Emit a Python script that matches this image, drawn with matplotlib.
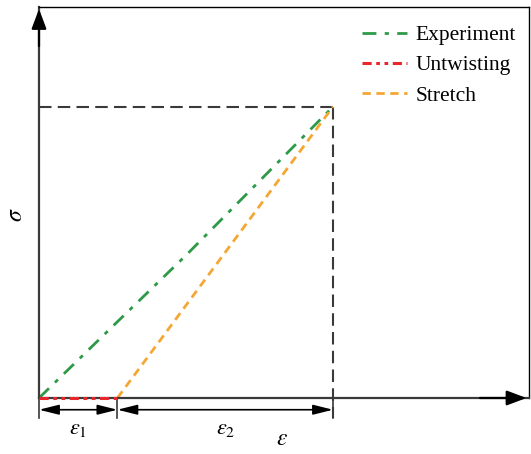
import matplotlib

matplotlib.use("Agg")

import matplotlib.pyplot as plt  # noqa: E402

plt.rcParams["font.family"] = ["Liberation Serif", "DejaVu Serif"]
plt.rcParams["mathtext.fontset"] = "stix"

# schematic values (arbitrary units)
x_max, y_max = 10.0, 10.0
eps1 = 1.6
eps_peak = 6.0
sigma_peak = 7.45

exp_x = [0.0, 1.6, 3.0, 4.5, 6.0]
exp_y = [0.0, 1.95, 3.65, 5.55, 7.45]
untw_x = [0.0, 1.6]
untw_y = [0.0, 0.0]
str_x = [1.6, 6.0]
str_y = [0.0, 7.45]

fig = plt.figure(figsize=(5.31, 4.54), dpi=100)
ax = fig.add_axes([39 / 531, 56 / 454, 490 / 531, 391 / 454])
ax.set_xlim(0, x_max)
ax.set_ylim(0, y_max)
ax.set_xticks([])
ax.set_yticks([])
for side in ("top", "right"):
    ax.spines[side].set_linewidth(1.0)
    ax.spines[side].set_color("black")
for side in ("left", "bottom"):
    ax.spines[side].set_linewidth(1.6)
    ax.spines[side].set_color("#3a3a3a")

# axis arrows
head = "-|>,head_length=1.2,head_width=0.45"
ax.annotate("", xy=(0, 9.95), xytext=(0, 9.0),
            arrowprops=dict(arrowstyle=head, color="black", lw=1.6,
                            shrinkA=0, shrinkB=0),
            annotation_clip=False)
ax.annotate("", xy=(9.95, 0), xytext=(9.0, 0),
            arrowprops=dict(arrowstyle=head, color="black", lw=1.6,
                            shrinkA=0, shrinkB=0),
            annotation_clip=False)

# guide lines to the peak
ax.plot([0, eps_peak], [sigma_peak, sigma_peak], color="#3a3a3a", lw=1.5,
        dashes=(6, 3))
ax.plot([eps_peak, eps_peak], [sigma_peak, -0.5], color="#3a3a3a", lw=1.5,
        dashes=(6, 3), clip_on=False)

ax.plot(exp_x, exp_y, color="#2e9a48", lw=2.0, dashes=(5, 3, 1.5, 3),
        label="Experiment")
ax.plot(untw_x, untw_y, color="#e8262b", lw=2.2,
        dashes=(3, 1.5, 1.2, 1.5, 1.2, 1.5),
        label="Untwisting", zorder=5, clip_on=False)
ax.plot(str_x, str_y, color="#f5a733", lw=2.0, dashes=(3, 2),
        label="Stretch")

# dimension lines
for xv in (0, eps1, eps_peak):
    ax.plot([xv, xv], [0, -0.5], color="#3a3a3a", lw=1.2, clip_on=False)
dim_y = -0.3
for a, b, lab in ((0, eps1, r"$\varepsilon_1$"), (eps1, eps_peak, r"$\varepsilon_2$")):
    ax.annotate("", xy=(a, dim_y), xytext=(b, dim_y),
                arrowprops=dict(arrowstyle="<|-|>,head_length=1.2,head_width=0.3",
                                color="black", lw=1.2, shrinkA=0, shrinkB=0),
                annotation_clip=False)
    ax.text((a + b) / 2, -0.55, lab, ha="center", va="top", fontsize=16)

ax.text(4.95, -1.05, r"$\varepsilon$", ha="center", va="center", fontsize=17)
ax.text(-0.45, 4.7, r"$\sigma$", ha="center", va="center", fontsize=17,
        rotation=90)

ax.legend(loc="upper right", bbox_to_anchor=(1.0, 0.987), frameon=False,
          fontsize=15.5, handlelength=2.1, handletextpad=0.4,
          labelspacing=0.48, borderaxespad=0.2)

fig.savefig("out.png", dpi=100)
